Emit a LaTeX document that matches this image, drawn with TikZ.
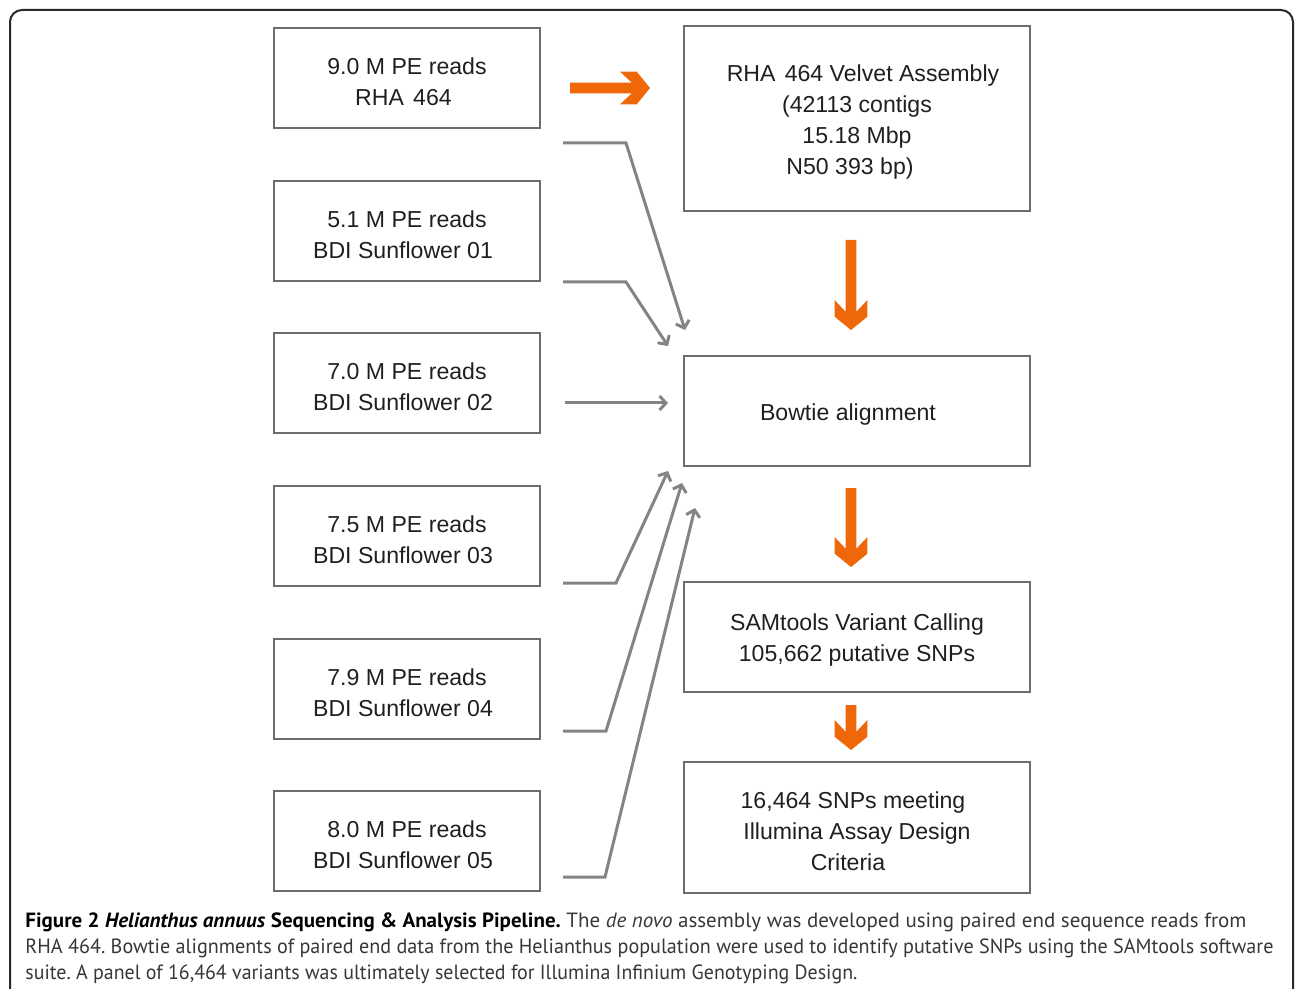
\documentclass[tikz,border=0pt]{standalone}
\usepackage{fontspec}
\usepackage{graphicx}
\setmainfont{Liberation Sans}
\newfontfamily\capfont{PT Sans}
\usetikzlibrary{arrows.meta}
\frenchspacing
\definecolor{orng}{RGB}{238,104,10}
\definecolor{boxgray}{RGB}{108,108,108}
\definecolor{conngray}{RGB}{132,132,132}
\definecolor{captext}{RGB}{55,55,55}
\definecolor{framec}{RGB}{40,40,40}
\newcommand{\chevarrow}[4]{%
  \begin{scope}[shift={(#1,#2)},rotate=#4]
    \fill[orng] (-#3,-5.4) -- (-18.3,-5.4) -- (-30,-16.4) -- (-13.3,-16.4) -- (0,0)
      -- (-13.3,16.4) -- (-30,16.4) -- (-18.3,5.4) -- (-#3,5.4) -- cycle;
  \end{scope}}
\begin{document}
\begin{tikzpicture}[x=0.5pt,y=-0.5pt,
  box/.style={draw=boxgray, line width=1pt, inner sep=0pt},
  boxtext/.style={align=center, inner sep=0pt, yshift=-1.7pt,
    font=\fontsize{11.55}{15.5}\selectfont, text=black!88},
  lbox/.style={box, minimum width=133pt, minimum height=50pt},
  rbox/.style={box, minimum width=173pt},
  conn/.style={draw=conngray, line width=1.5pt, line join=miter,
    -{Straight Barb[length=3.2pt,width=7pt]}},
  capline/.style={anchor=base west, inner sep=0pt,
    font=\capfont\fontsize{10.3}{13}\selectfont, text=captext}]
\useasboundingbox (0,0) rectangle (1295,989);
% frame
\draw[framec, line width=1pt, rounded corners=6pt] (10,1020) -- (10,10) -- (1293,10) -- (1293,1020);
% left boxes
\node[lbox, label={[boxtext]center:{9.0 M PE reads\\RHA\hspace{0.4em}464\hspace*{3.5pt}}}] (r1) at (407,78) {};
\node[lbox, label={[boxtext]center:{5.1 M PE reads\\BDI Sunflower 01\hspace*{4pt}}}] (r2) at (407,231) {};
\node[lbox, label={[boxtext]center:{7.0 M PE reads\\BDI Sunflower 02\hspace*{4pt}}}] (r3) at (407,383) {};
\node[lbox, label={[boxtext]center:{7.5 M PE reads\\BDI Sunflower 03\hspace*{4pt}}}] (r4) at (407,536) {};
\node[lbox, label={[boxtext]center:{7.9 M PE reads\\BDI Sunflower 04\hspace*{4pt}}}] (r5) at (407,689) {};
\node[lbox, label={[boxtext]center:{8.0 M PE reads\\BDI Sunflower 05\hspace*{4pt}}}] (r6) at (407,841) {};
% right boxes
\node[rbox, minimum height=92.5pt,
  label={[boxtext]center:{\hspace*{6pt}RHA\hspace{0.4em}464 Velvet Assembly\\(42113 contigs\hspace*{7pt}\\15.18 Mbp\hspace*{7pt}\\N50 393 bp)\hspace*{7pt}}}] (asm) at (857,118.5) {};
\node[rbox, minimum height=55pt,
  label={[boxtext]center:{Bowtie alignment\hspace*{9pt}}}] (bt) at (857,411) {};
\node[rbox, minimum height=55pt,
  label={[boxtext]center:{SAMtools Variant Calling\\105,662 putative SNPs}}] (sam) at (857,637) {};
\node[rbox, minimum height=65.5pt,
  label={[boxtext]center:{16,464 SNPs meeting\hspace*{4pt}\\Illumina Assay Design\hspace*{5pt}\\Criteria\hspace*{9pt}}}] (snp) at (857,827.5) {};
% orange arrows
\chevarrow{650}{88}{80}{0}
\chevarrow{851}{330}{90}{-90}
\chevarrow{851}{567}{79}{-90}
\chevarrow{851}{750}{45}{-90}
% gray connectors
\coordinate (s1) at (563,143); \coordinate (k1) at (626,143); \coordinate (e1) at (685,330);
\coordinate (s2) at (563,282); \coordinate (k2) at (626,282); \coordinate (e2) at (668,346);
\coordinate (s3) at (565,403); \coordinate (e3) at (668,403);
\coordinate (s4) at (563,583); \coordinate (k4) at (616,583); \coordinate (e4) at (668,471);
\coordinate (s5) at (563,731); \coordinate (k5) at (606,731); \coordinate (e5) at (682,483);
\coordinate (s6) at (563,877); \coordinate (k6) at (605,877); \coordinate (e6) at (695,508);
\draw[conn] (s1) -- (k1) -- (e1);
\draw[conn] (s2) -- (k2) -- (e2);
\draw[conn] (s3) -- (e3);
\draw[conn] (s4) -- (k4) -- (e4);
\draw[conn] (s5) -- (k5) -- (e5);
\draw[conn] (s6) -- (k6) -- (e6);
% caption
\node[capline] (cap1) at (25,927.5) {\resizebox{610.5pt}{\height}{\textcolor{black}{\textbf{Figure 2} \textbf{\textit{Helianthus annuus}} \textbf{Sequencing \& Analysis Pipeline.}} The \textit{de novo} assembly was developed using paired end sequence reads from}};
\node[capline] (cap2) at (25,953.5) {\resizebox{624pt}{\height}{RHA 464. Bowtie alignments of paired end data from the Helianthus population were used to identify putative SNPs using the SAMtools software}};
\node[capline] (cap3) at (25,979.5) {\resizebox{416pt}{\height}{suite. A panel of 16,464 variants was ultimately selected for Illumina Infinium Genotyping Design.}};
\end{tikzpicture}
\end{document}
